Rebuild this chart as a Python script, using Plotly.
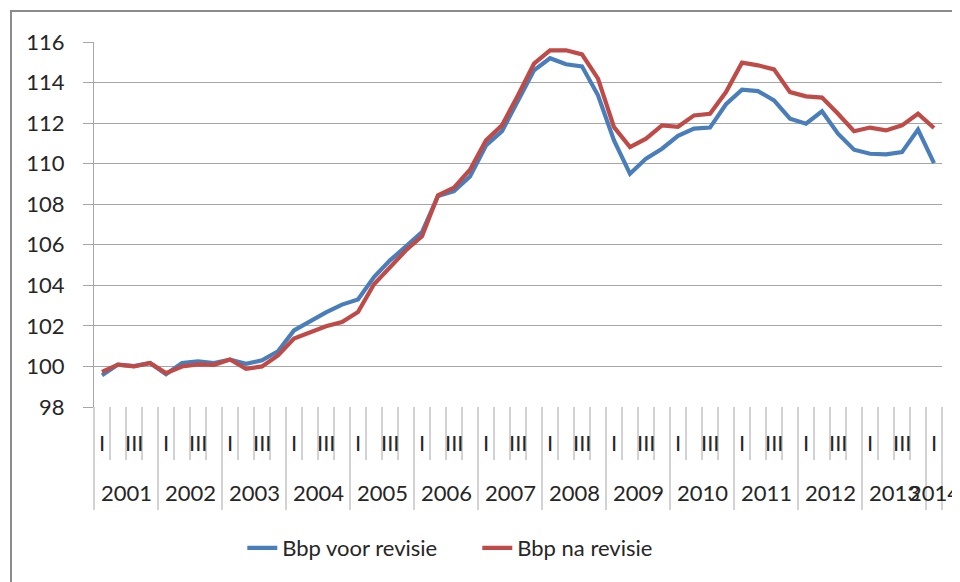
import plotly.graph_objects as go

years = [str(y) for y in range(2001, 2015)]
quarters = ["I", "II", "III", "IV"]
quarter_labels = ["I", "", "III", ""]

voor = [99.56, 100.09, 100.02, 100.17, 99.62, 100.17, 100.25, 100.17, 100.34, 100.13,
        100.30, 100.75, 101.78, 102.24, 102.67, 103.05, 103.30, 104.41, 105.23, 105.92,
        106.63, 108.40, 108.65, 109.37, 110.90, 111.60, 113.09, 114.60, 115.20, 114.90,
        114.80, 113.37, 111.15, 109.50, 110.25, 110.74, 111.37, 111.73, 111.78, 112.93,
        113.65, 113.58, 113.12, 112.22, 111.97, 112.58, 111.48, 110.69, 110.49, 110.46,
        110.57, 111.68, 110.03]
na = [99.73, 100.09, 100.00, 100.17, 99.67, 100.00, 100.10, 100.08, 100.34, 99.88,
      100.00, 100.54, 101.37, 101.65, 101.98, 102.19, 102.68, 104.05, 104.90, 105.73,
      106.42, 108.44, 108.82, 109.70, 111.15, 111.89, 113.37, 114.93, 115.59, 115.59,
      115.39, 114.19, 111.80, 110.82, 111.23, 111.89, 111.82, 112.38, 112.46, 113.53,
      114.98, 114.85, 114.65, 113.53, 113.32, 113.26, 112.46, 111.60, 111.78, 111.64,
      111.89, 112.46, 111.76]

n = len(voor)
x = list(range(n))
cat_year = [years[i // 4] for i in x]
cat_q = [quarter_labels[i % 4] for i in x]

FONT = "Lato"
TXT = "#262626"
GRID = "#a6a6a6"
BLUE = "#4a7ebb"
RED = "#be4b48"

fig = go.Figure()
fig.add_trace(go.Scatter(x=x, y=voor, mode="lines", name="Bbp voor revisie",
                         line=dict(color=BLUE, width=4.2)))
fig.add_trace(go.Scatter(x=x, y=na, mode="lines", name="Bbp na revisie",
                         line=dict(color=RED, width=4.2)))

# figure is drawn at an 8px page offset; plot area in figure pixels
L, T, W, H = 86, 34, 952, 574
plot_w = 848.0
plot_h = 365.0
B = H - T - plot_h
R = W - L - plot_w

def py(pix_below):
    return -pix_below / plot_h

shapes = []
# category boundaries
for k in range(n + 1):
    is_year = (k % 4 == 0) or (k == n)
    shapes.append(dict(type="line", xref="paper", yref="paper",
                       x0=k / n, x1=k / n, y0=0, y1=py(103 if is_year else 53),
                       line=dict(color=GRID, width=1)))
# outer chart border (top and left visible)
shapes.append(dict(type="rect", xref="paper", yref="paper",
                   x0=(3 - L) / plot_w, x1=1.2, y0=-0.7, y1=(T + plot_h - 3) / plot_h,
                   line=dict(color="#8c8c8c", width=2), fillcolor="rgba(0,0,0,0)"))

annotations = []
for i in x:
    if cat_q[i]:
        annotations.append(dict(x=i, y=py(35), xref="x", yref="paper", text=cat_q[i],
                                showarrow=False, xanchor="center", yanchor="middle",
                                font=dict(family=FONT, size=22, color=TXT)))
for j, yr in enumerate(years):
    idx = [i for i in x if cat_year[i] == yr]
    cx = (idx[0] + idx[-1]) / 2.0
    annotations.append(dict(x=cx, y=py(85), xref="x", yref="paper", text=yr,
                            showarrow=False, xanchor="center", yanchor="middle",
                            font=dict(family=FONT, size=22, color=TXT)))

fig.update_layout(
    width=W, height=H,
    margin=dict(l=L, r=R, t=T, b=B, autoexpand=False),
    paper_bgcolor="white", plot_bgcolor="white",
    font=dict(family=FONT, size=22, color=TXT),
    showlegend=True,
    legend=dict(orientation="h", x=0.452, xanchor="center", y=py(141), yanchor="middle",
                font=dict(family=FONT, size=22, color=TXT), entrywidth=190,
                bgcolor="rgba(0,0,0,0)"),
    xaxis=dict(range=[-0.5, n - 0.5], showticklabels=False, showgrid=False,
               zeroline=False, showline=False, ticks=""),
    yaxis=dict(range=[98, 116], dtick=2, tick0=98, showgrid=True, gridcolor=GRID,
               gridwidth=1.3, zeroline=False, showline=True, linecolor=GRID, linewidth=1.3,
               ticks="outside", ticklen=10, tickcolor=GRID, tickwidth=1.3,
               ticklabelstandoff=14, tickfont=dict(family=FONT, size=22, color=TXT)),
    shapes=shapes, annotations=annotations,
)

fig.write_html("out.html")
